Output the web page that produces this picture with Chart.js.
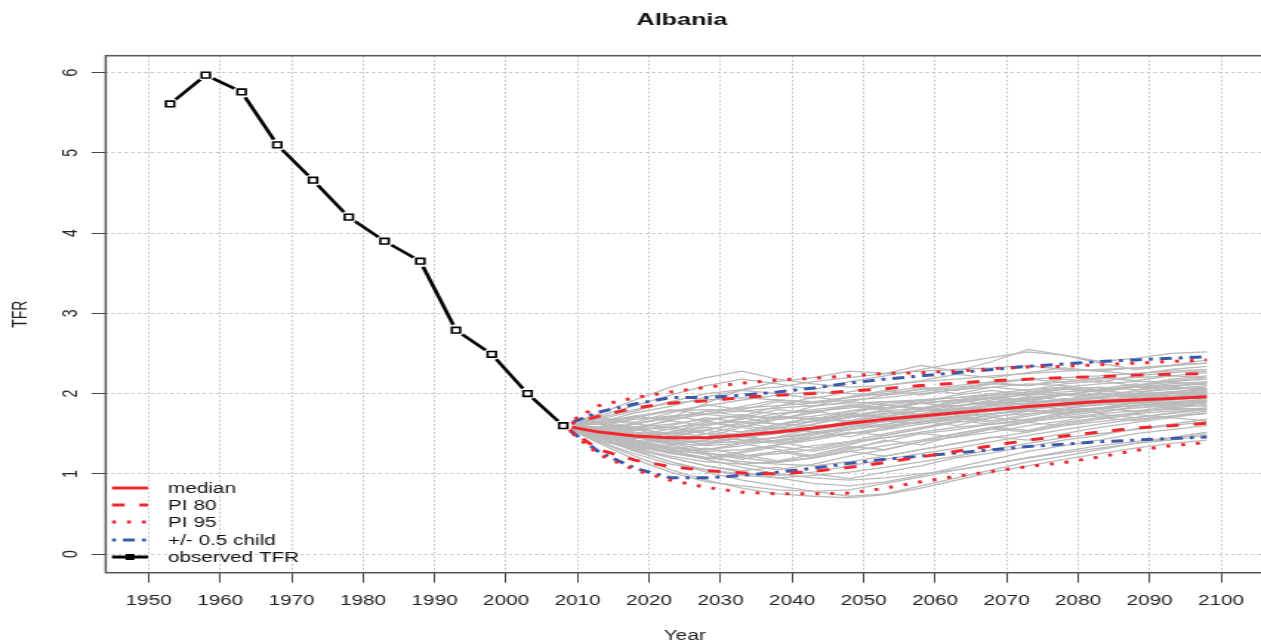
<!DOCTYPE html>
<html>
<head>
<meta charset="utf-8">
<script src="https://cdn.jsdelivr.net/npm/chart.js@4/dist/chart.umd.min.js"></script>
<style>
    html, body { margin: 0; padding: 0; background: #fff; width: 1261px; height: 642px; overflow: hidden; }
    /* la imagen original esta estirada en horizontal */
    #wrap { width: 860px; height: 642px; transform: scaleX(1.48); transform-origin: 0 0; }
</style>
</head>
<body>
<div id="wrap"><canvas id="grafico" width="860" height="642"></canvas></div>
<script>
// =====================
// datos
// =====================
const xTicks = [1950, 1960, 1970, 1980, 1990, 2000, 2010, 2020, 2030, 2040, 2050, 2060, 2070, 2080, 2090, 2100];
const yTicks = [0, 1, 2, 3, 4, 5, 6];

const obsYears = [1953, 1958, 1963, 1968, 1973, 1978, 1983, 1988, 1993, 1998, 2003, 2008];
const obsTfr = [5.61, 5.97, 5.76, 5.10, 4.66, 4.20, 3.90, 3.65, 2.79, 2.49, 2.00, 1.60];

const projYears = [2008, 2013, 2018, 2023, 2028, 2033, 2038, 2043, 2048, 2053, 2058, 2063, 2068, 2073, 2078, 2083, 2088, 2093, 2098];
const median   = [1.60, 1.52, 1.47, 1.45, 1.45, 1.48, 1.52, 1.57, 1.63, 1.68, 1.72, 1.76, 1.80, 1.84, 1.87, 1.90, 1.92, 1.94, 1.96];
const pi80Low  = [1.60, 1.30, 1.17, 1.09, 1.04, 1.01, 1.00, 1.03, 1.08, 1.14, 1.21, 1.28, 1.35, 1.42, 1.47, 1.52, 1.57, 1.60, 1.63];
const pi80High = [1.60, 1.72, 1.82, 1.88, 1.91, 1.95, 1.98, 2.00, 2.03, 2.06, 2.10, 2.13, 2.16, 2.18, 2.20, 2.21, 2.23, 2.24, 2.25];
const pi95Low  = [1.60, 1.24, 1.05, 0.92, 0.83, 0.77, 0.75, 0.75, 0.76, 0.82, 0.90, 0.97, 1.03, 1.09, 1.14, 1.21, 1.29, 1.35, 1.39];
const pi95High = [1.60, 1.85, 1.95, 2.02, 2.08, 2.13, 2.17, 2.19, 2.22, 2.25, 2.26, 2.28, 2.31, 2.33, 2.34, 2.36, 2.38, 2.40, 2.42];
const halfLow  = [1.60, 1.27, 1.07, 0.95, 0.95, 0.98, 1.02, 1.07, 1.13, 1.18, 1.22, 1.26, 1.30, 1.34, 1.37, 1.40, 1.42, 1.44, 1.46];
const halfHigh = [1.60, 1.77, 1.87, 1.95, 1.95, 1.98, 2.02, 2.07, 2.13, 2.18, 2.22, 2.26, 2.30, 2.34, 2.37, 2.40, 2.42, 2.44, 2.46];

// trayectorias grises (leidas a ojo)
const trajectories = [
    [1.60, 1.72, 1.85, 1.98, 2.10, 2.18, 2.12, 2.05, 2.15, 2.22, 2.30, 2.38, 2.45, 2.52, 2.48, 2.40, 2.44, 2.50, 2.52],
    [1.60, 1.45, 1.30, 1.15, 1.02, 0.92, 0.85, 0.78, 0.72, 0.75, 0.85, 0.95, 1.05, 1.15, 1.22, 1.30, 1.38, 1.42, 1.48],
    [1.60, 1.55, 1.50, 1.52, 1.60, 1.68, 1.75, 1.80, 1.85, 1.90, 1.88, 1.92, 1.98, 2.02, 2.05, 2.08, 2.05, 2.10, 2.12],
    [1.60, 1.48, 1.40, 1.32, 1.28, 1.30, 1.36, 1.42, 1.50, 1.58, 1.65, 1.72, 1.78, 1.80, 1.85, 1.90, 1.92, 1.95, 1.98],
    [1.60, 1.65, 1.70, 1.78, 1.85, 1.92, 1.98, 2.02, 2.00, 1.98, 2.02, 2.08, 2.12, 2.10, 2.15, 2.18, 2.20, 2.22, 2.20],
    [1.60, 1.40, 1.25, 1.12, 1.05, 1.00, 0.98, 1.02, 1.10, 1.18, 1.25, 1.32, 1.40, 1.48, 1.55, 1.62, 1.68, 1.72, 1.75],
    [1.60, 1.52, 1.45, 1.42, 1.40, 1.45, 1.50, 1.55, 1.60, 1.68, 1.75, 1.80, 1.82, 1.88, 1.92, 1.95, 1.98, 2.00, 2.02],
    [1.60, 1.58, 1.62, 1.70, 1.78, 1.82, 1.85, 1.88, 1.92, 1.95, 2.00, 2.05, 2.08, 2.12, 2.10, 2.05, 2.08, 2.12, 2.15],
    [1.60, 1.50, 1.38, 1.28, 1.20, 1.15, 1.12, 1.10, 1.15, 1.22, 1.30, 1.38, 1.45, 1.52, 1.60, 1.65, 1.70, 1.75, 1.80],
    [1.60, 1.62, 1.58, 1.55, 1.50, 1.48, 1.52, 1.58, 1.65, 1.72, 1.78, 1.85, 1.90, 1.95, 1.98, 2.00, 2.02, 2.05, 2.08],
    [1.60, 1.42, 1.30, 1.20, 1.10, 1.02, 0.95, 0.88, 0.85, 0.90, 0.98, 1.08, 1.18, 1.28, 1.35, 1.42, 1.50, 1.55, 1.60],
    [1.60, 1.68, 1.78, 1.90, 2.00, 2.05, 2.08, 2.15, 2.20, 2.25, 2.28, 2.30, 2.32, 2.35, 2.30, 2.28, 2.32, 2.35, 2.38],
    [1.60, 1.55, 1.45, 1.38, 1.35, 1.38, 1.42, 1.45, 1.50, 1.55, 1.62, 1.68, 1.72, 1.75, 1.78, 1.82, 1.85, 1.88, 1.90],
    [1.60, 1.50, 1.42, 1.38, 1.42, 1.50, 1.58, 1.65, 1.70, 1.75, 1.78, 1.80, 1.85, 1.88, 1.90, 1.92, 1.95, 1.95, 1.98],
    [1.60, 1.45, 1.32, 1.22, 1.15, 1.12, 1.15, 1.20, 1.28, 1.35, 1.42, 1.50, 1.58, 1.65, 1.70, 1.72, 1.75, 1.78, 1.80],
    [1.60, 1.70, 1.80, 1.88, 1.92, 1.95, 1.92, 1.90, 1.95, 2.00, 2.05, 2.10, 2.15, 2.18, 2.20, 2.22, 2.25, 2.28, 2.30],
    [1.60, 1.52, 1.42, 1.30, 1.18, 1.08, 1.00, 0.95, 0.92, 0.95, 1.00, 1.05, 1.12, 1.20, 1.28, 1.35, 1.40, 1.45, 1.52],
    [1.60, 1.58, 1.52, 1.48, 1.45, 1.42, 1.45, 1.50, 1.55, 1.60, 1.65, 1.70, 1.75, 1.80, 1.85, 1.88, 1.90, 1.92, 1.95],
    [1.60, 1.48, 1.35, 1.25, 1.20, 1.22, 1.28, 1.35, 1.40, 1.45, 1.50, 1.55, 1.62, 1.68, 1.72, 1.78, 1.82, 1.85, 1.88],
    [1.60, 1.62, 1.68, 1.72, 1.75, 1.78, 1.82, 1.85, 1.88, 1.90, 1.92, 1.95, 1.98, 2.00, 2.02, 2.05, 2.08, 2.10, 2.12],
    [1.60, 1.40, 1.22, 1.05, 0.92, 0.82, 0.75, 0.72, 0.70, 0.74, 0.82, 0.92, 1.02, 1.10, 1.18, 1.25, 1.32, 1.38, 1.42],
    [1.60, 1.55, 1.58, 1.62, 1.68, 1.72, 1.70, 1.68, 1.72, 1.78, 1.82, 1.85, 1.88, 1.90, 1.92, 1.95, 1.98, 2.00, 2.02],
    [1.60, 1.50, 1.40, 1.30, 1.25, 1.22, 1.25, 1.30, 1.38, 1.45, 1.52, 1.58, 1.62, 1.65, 1.70, 1.75, 1.78, 1.80, 1.82],
    [1.60, 1.75, 1.92, 2.08, 2.20, 2.28, 2.18, 2.12, 2.08, 2.10, 2.15, 2.18, 2.22, 2.25, 2.28, 2.30, 2.32, 2.35, 2.38],
    [1.60, 1.48, 1.38, 1.32, 1.30, 1.35, 1.42, 1.50, 1.58, 1.62, 1.68, 1.72, 1.75, 1.78, 1.80, 1.82, 1.85, 1.88, 1.90],
    [1.60, 1.52, 1.48, 1.50, 1.55, 1.62, 1.68, 1.72, 1.78, 1.82, 1.88, 1.92, 1.95, 1.98, 2.00, 1.98, 2.00, 2.02, 2.05],
    [1.60, 1.45, 1.28, 1.15, 1.05, 0.98, 0.95, 0.98, 1.02, 1.08, 1.15, 1.22, 1.30, 1.38, 1.45, 1.50, 1.55, 1.60, 1.65],
    [1.60, 1.65, 1.72, 1.78, 1.80, 1.78, 1.75, 1.78, 1.82, 1.88, 1.92, 1.95, 2.00, 2.05, 2.08, 2.12, 2.15, 2.15, 2.18],
    [1.60, 1.50, 1.45, 1.40, 1.38, 1.40, 1.45, 1.52, 1.58, 1.65, 1.70, 1.74, 1.78, 1.82, 1.84, 1.86, 1.88, 1.90, 1.92],
    [1.60, 1.58, 1.55, 1.58, 1.62, 1.65, 1.62, 1.60, 1.62, 1.65, 1.70, 1.75, 1.80, 1.85, 1.88, 1.90, 1.95, 1.98, 2.00],
    [1.60, 1.68, 1.62, 1.70, 1.88, 2.05, 2.15, 2.20, 2.28, 2.25, 2.35, 2.28, 2.40, 2.55, 2.48, 2.38, 2.30, 2.35, 2.42],
    [1.60, 1.38, 1.18, 1.02, 0.90, 0.85, 0.80, 0.78, 0.80, 0.88, 0.96, 1.05, 1.12, 1.20, 1.26, 1.32, 1.38, 1.44, 1.50],
    [1.60, 1.56, 1.62, 1.58, 1.50, 1.42, 1.38, 1.45, 1.55, 1.62, 1.70, 1.78, 1.85, 1.82, 1.88, 1.95, 2.00, 1.96, 2.02],
    [1.60, 1.46, 1.55, 1.68, 1.74, 1.70, 1.62, 1.66, 1.75, 1.85, 1.92, 1.88, 1.95, 2.02, 2.08, 2.04, 2.10, 2.16, 2.20],
    [1.60, 1.52, 1.36, 1.26, 1.18, 1.26, 1.34, 1.28, 1.36, 1.48, 1.56, 1.66, 1.74, 1.80, 1.76, 1.82, 1.88, 1.84, 1.86],
    [1.60, 1.62, 1.50, 1.40, 1.46, 1.58, 1.72, 1.84, 1.90, 1.86, 1.80, 1.88, 1.94, 1.90, 1.98, 2.06, 2.12, 2.08, 2.14],
    [1.60, 1.55, 1.42, 1.30, 1.24, 1.12, 1.05, 1.12, 1.22, 1.30, 1.40, 1.46, 1.52, 1.60, 1.66, 1.74, 1.70, 1.76, 1.82],
    [1.60, 1.64, 1.76, 1.84, 1.96, 2.04, 2.00, 1.94, 2.02, 2.10, 2.16, 2.24, 2.20, 2.26, 2.32, 2.28, 2.24, 2.30, 2.34],
    [1.60, 1.48, 1.44, 1.52, 1.46, 1.38, 1.46, 1.56, 1.62, 1.58, 1.64, 1.72, 1.66, 1.74, 1.82, 1.86, 1.92, 1.88, 1.94],
    [1.60, 1.44, 1.34, 1.20, 1.10, 1.04, 1.08, 1.00, 0.94, 1.02, 1.10, 1.20, 1.26, 1.34, 1.42, 1.48, 1.56, 1.62, 1.68],
    [1.60, 1.58, 1.46, 1.52, 1.64, 1.58, 1.50, 1.62, 1.74, 1.70, 1.80, 1.92, 1.86, 1.94, 2.00, 1.96, 2.04, 2.08, 2.04],
    [1.60, 1.50, 1.56, 1.44, 1.36, 1.46, 1.58, 1.52, 1.46, 1.56, 1.66, 1.60, 1.70, 1.78, 1.74, 1.82, 1.90, 1.86, 1.92],
    [1.60, 1.66, 1.58, 1.66, 1.78, 1.72, 1.84, 1.96, 1.90, 1.98, 2.06, 2.00, 2.08, 2.04, 2.12, 2.16, 2.10, 2.18, 2.22],
    [1.60, 1.46, 1.30, 1.36, 1.26, 1.18, 1.28, 1.20, 1.30, 1.42, 1.36, 1.48, 1.56, 1.52, 1.62, 1.70, 1.66, 1.72, 1.78],
    [1.60, 1.54, 1.62, 1.72, 1.66, 1.58, 1.68, 1.78, 1.72, 1.80, 1.88, 1.84, 1.78, 1.86, 1.94, 1.90, 1.98, 2.02, 1.98],
    [1.60, 1.42, 1.48, 1.38, 1.30, 1.38, 1.30, 1.22, 1.32, 1.40, 1.50, 1.46, 1.56, 1.64, 1.60, 1.68, 1.74, 1.70, 1.76],
    [1.60, 1.70, 1.64, 1.76, 1.86, 1.80, 1.90, 1.84, 1.96, 2.04, 1.98, 2.06, 2.14, 2.10, 2.18, 2.14, 2.22, 2.26, 2.28],
    [1.60, 1.52, 1.58, 1.48, 1.54, 1.64, 1.56, 1.66, 1.76, 1.70, 1.74, 1.84, 1.90, 1.86, 1.80, 1.88, 1.94, 2.00, 2.04],
    [1.60, 1.46, 1.38, 1.46, 1.54, 1.48, 1.40, 1.48, 1.58, 1.66, 1.62, 1.70, 1.64, 1.72, 1.80, 1.76, 1.84, 1.88, 1.84],
    [1.60, 1.56, 1.46, 1.36, 1.42, 1.52, 1.62, 1.70, 1.64, 1.74, 1.82, 1.78, 1.86, 1.92, 1.98, 1.94, 1.90, 1.96, 2.00],
    [1.60, 1.62, 1.72, 1.66, 1.60, 1.70, 1.80, 1.76, 1.86, 1.82, 1.90, 1.98, 2.04, 1.98, 2.06, 2.02, 2.08, 2.06, 2.10],
    [1.60, 1.40, 1.34, 1.26, 1.32, 1.24, 1.16, 1.24, 1.34, 1.30, 1.40, 1.50, 1.58, 1.54, 1.64, 1.70, 1.76, 1.82, 1.80],
    [1.60, 1.54, 1.48, 1.56, 1.66, 1.74, 1.68, 1.76, 1.84, 1.80, 1.88, 1.84, 1.92, 2.00, 2.06, 2.02, 2.10, 2.14, 2.12],
    [1.60, 1.48, 1.40, 1.30, 1.38, 1.46, 1.40, 1.32, 1.40, 1.50, 1.58, 1.66, 1.62, 1.68, 1.76, 1.82, 1.78, 1.84, 1.90],
    [1.60, 1.64, 1.56, 1.50, 1.58, 1.52, 1.60, 1.70, 1.66, 1.76, 1.72, 1.80, 1.88, 1.96, 1.92, 2.00, 1.96, 2.02, 2.06],
    [1.60, 1.44, 1.36, 1.28, 1.20, 1.28, 1.36, 1.44, 1.52, 1.48, 1.56, 1.64, 1.70, 1.66, 1.74, 1.80, 1.86, 1.82, 1.86],
    [1.60, 1.58, 1.70, 1.80, 1.74, 1.84, 1.92, 1.88, 1.96, 2.02, 2.08, 2.04, 2.12, 2.18, 2.14, 2.20, 2.16, 2.22, 2.26],
    [1.60, 1.50, 1.42, 1.34, 1.26, 1.20, 1.14, 1.20, 1.28, 1.22, 1.30, 1.38, 1.46, 1.42, 1.50, 1.58, 1.64, 1.70, 1.66],
    [1.60, 1.56, 1.50, 1.42, 1.50, 1.60, 1.54, 1.62, 1.70, 1.78, 1.74, 1.82, 1.78, 1.86, 1.92, 1.88, 1.96, 1.92, 1.98],
    [1.60, 1.62, 1.54, 1.60, 1.70, 1.64, 1.72, 1.68, 1.78, 1.86, 1.82, 1.90, 1.96, 1.92, 1.98, 2.04, 2.00, 2.08, 2.06]
];

// =====================
// estilos
// =====================
const S = 1.48; // factor de estiramiento horizontal
const FONT = '"Liberation Sans", Arial, sans-serif';
const RED = "#f2262c";
const BLUE = "#3c5aac";
const GRAY = "#bababa";
const dashPI80 = [8.5, 10];
const dashPI95 = [2.7, 7.4];
const dashHalf = [2.7, 4.7, 8.1, 4.7];

Chart.defaults.font.family = FONT;

const xy = (xs, ys) => xs.map((x, i) => ({ x: x, y: ys[i] }));

function lineSet(label, ys, color, dash, order) {
    return {
        label: label,
        data: xy(projYears, ys),
        borderColor: color,
        borderWidth: 3,
        borderDash: dash,
        pointRadius: 0,
        tension: 0,
        fill: false,
        order: order
    };
}

let datasets = [
    {
        label: "observed TFR",
        data: xy(obsYears, obsTfr),
        showLine: false,
        pointStyle: "rect",
        pointRadius: 4,
        pointBorderWidth: 1.6,
        pointBorderColor: "#000",
        pointBackgroundColor: "#fff",
        order: 0
    },
    {
        label: "_halo",
        data: xy(obsYears, obsTfr),
        showLine: false,
        pointStyle: "circle",
        pointRadius: 6,
        pointBorderWidth: 0,
        pointBackgroundColor: "#fff",
        order: 1
    },
    {
        label: "_obsline",
        data: xy(obsYears, obsTfr),
        borderColor: "#000",
        borderWidth: 2.6,
        pointRadius: 0,
        tension: 0,
        order: 2
    },
    lineSet("median", median, RED, [], 3),
    lineSet("PI 80 low", pi80Low, RED, dashPI80, 4),
    lineSet("PI 80 high", pi80High, RED, dashPI80, 4),
    lineSet("PI 95 low", pi95Low, RED, dashPI95, 5),
    lineSet("PI 95 high", pi95High, RED, dashPI95, 5),
    lineSet("half low", halfLow, BLUE, dashHalf, 6),
    lineSet("half high", halfHigh, BLUE, dashHalf, 6)
];

trajectories.forEach((t, i) => {
    datasets.push({
        label: "traj" + i,
        data: xy(projYears, t),
        borderColor: GRAY,
        borderWidth: 1.3,
        pointRadius: 0,
        tension: 0,
        order: 10
    });
});

// leyenda, titulo, caja y etiquetas del eje y al estilo R
const rPlot = {
    id: "rPlot",
    afterDraw(chart) {
        const ctx = chart.ctx;
        const a = chart.chartArea;

        // caja
        ctx.save();
        ctx.strokeStyle = "#555";
        ctx.lineWidth = 1.5;
        ctx.strokeRect(a.left, a.top, a.right - a.left, a.bottom - a.top);

        // titulo
        ctx.fillStyle = "#111";
        ctx.font = "bold 17px " + FONT;
        ctx.textAlign = "center";
        ctx.textBaseline = "middle";
        ctx.fillText("Albania", 682 / S, 20);

        // etiquetas del eje y, giradas
        ctx.font = "14px " + FONT;
        ctx.fillStyle = "#222";
        const ys = chart.scales.y;
        yTicks.forEach(v => {
            ctx.save();
            ctx.translate(71 / S, ys.getPixelForValue(v));
            ctx.rotate(-Math.PI / 2);
            ctx.fillText(String(v), 0, 0);
            ctx.restore();
        });

        // leyenda
        const items = [
            { text: "median", color: RED, dash: [] },
            { text: "PI 80", color: RED, dash: dashPI80 },
            { text: "PI 95", color: RED, dash: dashPI95 },
            { text: "+/- 0.5 child", color: BLUE, dash: dashHalf },
            { text: "observed TFR", color: "#000", dash: [], point: true }
        ];
        const rows = [488, 505, 522, 540, 557];
        const x1 = 112 / S, x2 = 148 / S, xt = 168 / S;
        ctx.textAlign = "left";
        items.forEach((it, i) => {
            const y = rows[i];
            ctx.beginPath();
            ctx.setLineDash(it.dash);
            ctx.strokeStyle = it.color;
            ctx.lineWidth = 3;
            ctx.moveTo(x1, y);
            ctx.lineTo(x2, y);
            ctx.stroke();
            ctx.setLineDash([]);
            if (it.point) {
                ctx.fillStyle = "#000";
                ctx.fillRect((x1 + x2) / 2 - 3, y - 3, 6, 6);
            }
            ctx.fillStyle = "#111";
            ctx.fillText(it.text, xt, y + 1);
        });
        ctx.restore();
    }
};

const ctx = document.getElementById("grafico");

const chart = new Chart(ctx, {
    type: "line",
    data: { datasets: datasets },
    options: {
        responsive: false,
        animation: false,
        layout: {
            padding: { top: 55.7, right: 860 - 1264.9 / S, bottom: 0, left: 0 }
        },
        plugins: {
            legend: { display: false },
            tooltip: { enabled: false }
        },
        scales: {
            x: {
                type: "linear",
                min: 1944,
                max: 2106,
                afterBuildTicks: s => { s.ticks = xTicks.map(v => ({ value: v })); },
                afterFit: s => { s.height = 642 - 572.7; },
                grid: {
                    color: "#c4c4c4",
                    lineWidth: 1,
                    tickLength: 10,
                    tickColor: "#444",
                    tickWidth: 1
                },
                border: { display: false, dash: [2, 2] },
                ticks: {
                    padding: 10,
                    color: "#222",
                    font: { size: 14 },
                    maxRotation: 0,
                    autoSkip: false,
                    callback: v => String(v)
                },
                title: {
                    display: true,
                    text: "Year",
                    color: "#222",
                    font: { size: 14 },
                    padding: { top: 0, bottom: -3 }
                }
            },
            y: {
                min: -0.233,
                max: 6.212,
                afterBuildTicks: s => { s.ticks = yTicks.map(v => ({ value: v })); },
                afterFit: s => { s.width = 105.7 / S; },
                grid: {
                    color: "#c4c4c4",
                    lineWidth: 1,
                    tickLength: 9.5,
                    tickColor: "#444",
                    tickWidth: 1
                },
                border: { display: false, dash: [2.2, 2.2] },
                ticks: { display: false },
                title: {
                    display: true,
                    text: "TFR",
                    color: "#222",
                    font: { size: 14 },
                    padding: { top: 6, bottom: 0 }
                }
            }
        }
    },
    plugins: [rPlot]
});
</script>
</body>
</html>
